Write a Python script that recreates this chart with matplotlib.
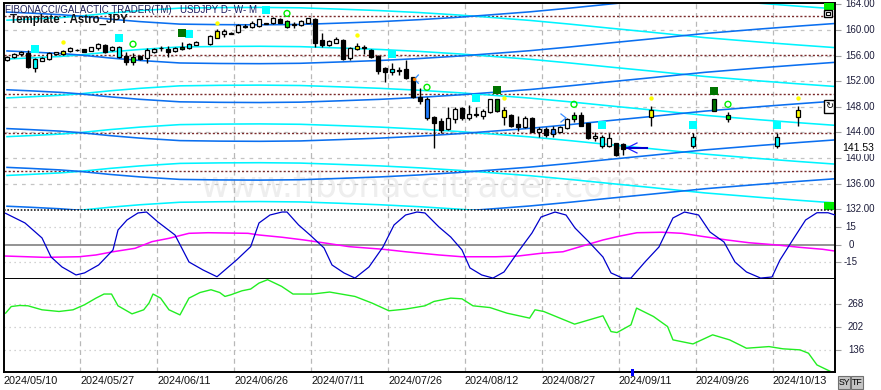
import matplotlib
matplotlib.use('Agg')
import matplotlib.pyplot as plt
from matplotlib.patches import Rectangle
from matplotlib.lines import Line2D
import matplotlib.transforms as mtrans

plt.rcParams['font.family'] = ['Liberation Sans', 'DejaVu Sans']

# ---------------- data ----------------
date_labels = ['2024/05/10', '2024/05/27', '2024/06/11', '2024/06/26', '2024/07/11', '2024/07/26',
               '2024/08/12', '2024/08/27', '2024/09/11', '2024/09/26', '2024/10/13']
date_label_bars = [-0.57, 10.43, 21.43, 32.43, 43.43, 54.43, 65.43, 76.43, 87.43, 98.43, 109.43]

candle_bars = list(range(0, 28)) + list(range(29, 89)) + [92, 98, 101, 103, 110, 113]
opens = [155.33, 155.75, 156.25, 156.47, 154.03, 155.2, 155.44, 156.2, 156.27, 156.73,
         156.85, 157.05, 156.8, 157.16, 157.67, 156.9, 157.4, 155.95, 154.97, 156.0,
         155.6, 156.53, 157.2, 157.05, 156.73, 157.0, 157.16, 157.67,
         157.78, 158.8, 159.34, 159.45, 159.65, 160.55, 160.53, 160.64, 161.0, 161.16,
         161.73, 161.42, 160.85, 160.8, 161.16, 161.73, 158.45, 157.67, 158.03, 158.45,
         155.6, 157.0, 157.35, 156.9, 155.95, 154.03, 153.5, 153.68, 153.87, 152.6,
         149.6, 149.23, 146.4, 145.84, 144.5, 146.06, 147.8, 146.2, 146.78, 146.6,
         147.16, 147.3, 147.5, 146.73, 145.33, 144.8, 146.3, 144.03, 144.5, 143.72,
         144.13, 144.66, 146.06, 146.73, 145.44, 143.1, 143.25, 141.94, 142.3, 142.2,
         147.5, 143.35, 147.4, 146.06, 143.25, 147.5]
highs = [155.95, 156.35, 156.72, 156.9, 155.6, 155.85, 156.55, 156.6, 156.85, 157.4,
         157.05, 157.1, 157.35, 157.94, 157.8, 157.5, 157.55, 156.63, 156.37, 156.1,
         157.16, 157.2, 157.56, 157.5, 157.3, 158.2, 158.0, 158.3,
         159.23, 160.12, 160.12, 159.66, 160.9, 160.9, 161.47, 161.8, 161.1, 162.0,
         161.85, 161.55, 161.3, 161.6, 161.95, 161.84, 159.5, 158.45, 158.87, 158.6,
         157.3, 157.94, 157.67, 157.0, 156.1, 154.28, 154.8, 154.28, 155.33, 152.7,
         150.9, 149.6, 146.6, 146.2, 147.94, 148.0, 148.0, 148.3, 147.94, 147.6,
         149.3, 149.3, 148.03, 146.9, 146.58, 146.5, 146.45, 144.9, 144.9, 145.0,
         145.05, 146.2, 147.16, 147.16, 145.55, 144.12, 143.6, 143.9, 142.4, 142.3,
         148.1, 143.88, 149.3, 147.16, 143.88, 148.1]
lows = [155.2, 155.6, 156.0, 154.03, 153.5, 155.1, 155.3, 156.1, 156.15, 156.53,
        156.75, 156.55, 156.75, 156.9, 156.37, 156.8, 155.7, 154.55, 154.55, 155.4,
        154.9, 156.45, 156.78, 155.75, 156.6, 156.9, 157.0, 157.6,
        157.67, 158.72, 158.97, 159.34, 159.55, 160.3, 160.28, 160.55, 160.95, 160.9,
        161.1, 160.4, 160.28, 160.7, 161.1, 157.4, 157.4, 157.55, 157.94, 155.4,
        155.4, 156.9, 156.27, 155.6, 153.1, 151.94, 153.0, 153.0, 152.36, 149.4,
        148.45, 146.0, 141.6, 143.97, 144.4, 145.44, 146.0, 145.95, 146.47, 146.06,
        147.0, 147.2, 145.17, 144.9, 144.28, 144.7, 144.0, 143.34, 143.34, 143.34,
        144.0, 144.55, 145.7, 145.0, 143.0, 142.7, 141.53, 141.7, 140.4, 140.5,
        145.0, 141.5, 147.3, 145.7, 141.5, 145.0]
closes = [155.75, 156.2, 156.5, 154.2, 155.44, 155.7, 156.4, 156.5, 156.73, 157.16,
          156.95, 156.63, 157.3, 157.78, 156.63, 157.4, 155.84, 155.06, 155.84, 155.5,
          156.9, 157.05, 157.24, 156.53, 157.16, 157.4, 157.8, 158.1,
          159.08, 159.86, 159.86, 159.5, 160.8, 160.6, 161.06, 161.69, 161.05, 161.84,
          161.16, 160.53, 160.95, 161.47, 161.84, 158.03, 157.67, 158.3, 158.56, 155.5,
          157.16, 157.5, 157.2, 155.75, 153.66, 153.5, 153.92, 153.72, 152.56, 149.6,
          148.97, 146.2, 145.5, 144.4, 146.2, 147.67, 146.2, 146.84, 146.85, 147.36,
          149.2, 149.2, 146.47, 145.0, 144.8, 146.3, 144.1, 144.55, 143.6, 144.5,
          144.9, 146.1, 146.73, 145.06, 143.1, 143.45, 141.94, 143.1, 140.5, 141.4,
          146.47, 141.94, 149.23, 146.73, 141.94, 146.47]
body_codes = (list("wwwkcwwwyw") + list("wkwwkwckgk") + list("wwwkwGcw") +   # bars 0-27
              list("wywwwwwwcw") +   # 29-38
              list("kgwwwkkwwk") +   # 39-48
              list("wykkkkckkk") +   # 49-58
              list("kbkkwwkwcw") +   # 59-68
              list("wGykkwkwkb") +   # 69-78
              list("wwgkkwcwkk") +   # 79-88
              list("ycGgcy"))        # forecast bars

cyan_sq_bars = [4, 16, 26, 37, 55, 67, 85, 98, 110]
cyan_sq_vals = [157.0, 158.8, 159.34, 163.1, 156.2, 149.34, 145.17, 145.17, 145.17]
yellow_dot_bars = [8, 30, 50, 71, 92, 113]
yellow_dot_vals = [158.2, 161.16, 159.28, 149.44, 149.44, 149.44]
dkgreen_sq_bars = [25, 70, 101]
dkgreen_sq_vals = [159.6, 150.6, 150.53]
circle_bars = [18, 40, 60, 81, 103]
circle_vals = [157.8, 162.6, 151.06, 148.4, 148.4]

fib_levels = [131.85, 137.92, 143.98, 150.04, 156.11, 162.18, 168.24]
brown_levels = [137.92, 143.98, 150.04, 156.11, 162.18]
band_bars = [0, 3.3, 7.6, 10.4, 14.7, 19, 24.7, 30.4, 36.1, 41.9, 47.6, 53.3, 59, 64.7,
             70.4, 74.7, 80.4, 86.1, 91.9, 99.7, 107.6, 113.3, 118.3]
band_offset = [0.63, 0.47, 0.23, 0.0, -0.47, -0.86, -1.25, -1.33, -1.36, -1.3, -1.09, -0.86,
               -0.55, -0.16, 0.31, 0.67, 1.25, 1.88, 2.5, 3.36, 4.06, 4.53, 4.92]

price_ticks = [164, 160, 156, 152, 148, 144, 140, 136, 132]
last_price = 141.53

osc_bars = [-0.2, 2.57, 5.0, 6.29, 7.86, 9.86, 11.07, 13.09, 15.14, 15.86, 17.14, 18.71, 19.93,
            21.57, 24.0, 26.0, 28.0, 30.0, 32.8, 34.81, 36.0, 37.57, 39.29, 40.0, 41.66, 43.29,
            45.29, 46.43, 48.14, 49.71, 51.71, 53.71, 55.29, 56.94, 58.57, 59.71, 61.71, 63.39,
            65.0, 66.14, 67.81, 69.43, 71.0, 73.0, 75.0, 76.29, 78.29, 79.86, 81.14, 83.14,
            85.14, 86.29, 87.93, 89.14, 91.14, 93.14, 95.14, 96.79, 98.8, 100.43, 102.43, 104.0,
            105.64, 107.66, 109.29, 110.43, 112.43, 114.09, 115.71, 117.29, 118.29]
osc_vals = [26.2, 18.1, 5.5, -10.5, -18.9, -25.6, -23.9, -17.2, -4.6, 12.2, 20.6, 26.5, 27.3,
            18.9, 8.0, -14.7, -21.4, -27.1, -13.0, -1.8, 18.1, 24.8, 27.3, 27.3, 16.4, 8.0,
            -2.9, -17.2, -23.9, -28.2, -18.9, -2.1, 16.4, 24.8, 27.3, 26.5, 14.7, 6.3,
            -4.6, -19.7, -25.6, -28.2, -23.1, -6.3, 9.7, 23.1, 27.3, 24.8, 13.9, 2.1,
            -10.5, -23.9, -28.2, -28.2, -14.7, -2.1, 22.3, 27.3, 24.8, 10.5, 2.1, -14.7,
            -23.1, -28.2, -27.3, -13.0, 5.5, 20.6, 26.7, 26.7, 24.8]
mag_bars = [-0.2, 5.43, 10.29, 12.71, 15.14, 18.29, 20.71, 23.14, 26.0, 28.71, 34.43, 36.0,
            39.29, 42.43, 45.71, 48.86, 53.71, 56.94, 61.71, 65.0, 69.86, 73.0, 76.29, 79.43,
            82.71, 85.14, 87.57, 90.0, 93.57, 96.43, 99.57, 102.86, 106.0, 110.0, 113.29,
            116.5, 118.29]
mag_vals = [-9.7, -10.8, -10.3, -8.8, -6.1, -3.2, 2.4, 5.2, 9.4, 9.9, 9.4, 8.0,
            6.1, 3.8, 1.0, -1.8, -4.0, -6.1, -8.8, -10.3, -10.3, -9.7, -7.4, -6.1,
            -0.4, 3.8, 7.1, 9.9, 10.3, 9.4, 6.6, 3.8, 1.5, -0.4, -2.4,
            -4.0, -5.5]
osc_ticks = [15, 0, -15]

grn_bars = [-0.2, 0.61, 1.81, 3.0, 5.0, 7.43, 9.43, 11.07, 12.71, 13.86, 14.93, 15.86, 17.86,
            19.53, 20.29, 20.86, 21.94, 23.14, 24.71, 26.0, 27.57, 29.14, 30.39, 31.14, 32.0,
            33.57, 34.81, 36.0, 37.23, 39.24, 40.86, 43.67, 46.09, 49.71, 52.14, 54.57, 56.94,
            59.71, 61.0, 63.39, 65.0, 66.57, 69.0, 71.43, 74.66, 75.43, 76.67, 81.09, 85.14,
            86.29, 87.14, 89.14, 89.94, 92.36, 94.37, 95.14, 98.0, 100.81, 103.23, 105.64,
            108.86, 110.86, 113.29, 114.5, 115.71, 117.71]
grn_vals = [242, 261, 264, 263, 251.6, 246.8, 251.6, 266, 285, 296.7, 296.7, 263, 240,
            251.6, 271, 296.7, 285, 251.6, 237, 285, 301, 309, 301, 289.8, 294.7,
            306, 311, 328, 337.7, 318.5, 296.7, 296.7, 302.4, 289.8, 270.9, 248.8, 253.6,
            263, 275.5, 285, 283, 263, 258, 242, 227.8, 251.6, 246.8, 210.6, 234.4,
            189.4, 186.5, 208.6, 256.5, 232.4, 203.7, 165.6, 154, 180, 165.6, 141.7,
            146.4, 140, 137, 127.4, 93.9, 74.6]
grn_ticks = [268, 202, 136]

# ---------------- layout ----------------
W, H = 881, 390
fig = plt.figure(figsize=(W / 100, H / 100), dpi=100)


def rect(x0, y0, x1, y1):
    return [x0 / W, 1 - y1 / H, (x1 - x0) / W, (y1 - y0) / H]


def fx(px):
    return px / W


def fy(py):
    return 1 - py / H


ax1 = fig.add_axes(rect(4, 3, 835, 210))
ax2 = fig.add_axes(rect(4, 210, 835, 279))
ax3 = fig.add_axes(rect(4, 279, 835, 372))
XL = (-0.43, 118.29)
grid_bars = [10.43 + 11 * k for k in range(10)]
label_col = '#1c1c3a'

for ax in (ax1, ax2, ax3):
    ax.set_xlim(*XL)
    ax.set_xticks([])
    for b in grid_bars:
        ax.axvline(b, color='#b8b8b8', lw=0.9, ls=(0, (4, 3)), zorder=0.6)
    for s in ax.spines.values():
        s.set_color('black')
        s.set_linewidth(1.4)
    ax.tick_params(axis='y', left=False, right=True, labelleft=False, labelright=False,
                   length=4, width=0.8, color='#a0a0a0')

# ---- top price panel ----
ax1.set_ylim(131.89, 164.23)
ax1.spines['bottom'].set_visible(False)
ax1.set_yticks(price_ticks)
for p in price_ticks[1:-1]:
    ax1.axhline(p, color='#c4c4c4', lw=0.9, ls=(0, (3, 4)), zorder=0.6)
for lv in brown_levels:
    ax1.axhline(lv, color='#7a2b2b', lw=1.0, ls=(0, (1.5, 1.5)), zorder=1)

ax1.text(0.5, 0.115, 'www.fibonaccitrader.com', transform=ax1.transAxes, ha='center',
         va='center', fontsize=25, family='DejaVu Sans', color='#eeeeee', zorder=0.5)

for lv in fib_levels:
    cy = [lv - d for d in band_offset]
    bl = [lv + d for d in band_offset]
    ax1.plot(band_bars, cy, color='#00f4ff', lw=1.15, zorder=1.5)
    ax1.plot(band_bars, bl, color='#0a6ff0', lw=1.15, zorder=1.6)

color_map = {'w': '#ffffff', 'k': '#000000', 'c': '#00ffff', 'y': '#ffff00',
             'g': '#00e600', 'G': '#007400', 'b': '#1e7cff'}
for b, o, h, l, c, code in zip(candle_bars, opens, highs, lows, closes, body_codes):
    ax1.vlines(b, l, h, color='black', lw=1.0, zorder=3)
    lo, hi = min(o, c), max(o, c)
    if hi - lo < 0.08:
        lo, hi = (lo + hi) / 2 - 0.04, (lo + hi) / 2 + 0.04
    ax1.add_patch(Rectangle((b - 0.34, lo), 0.68, hi - lo, facecolor=color_map[code],
                            edgecolor='black', lw=0.9, zorder=3.5))

ax1.scatter(cyan_sq_bars, cyan_sq_vals, marker='s', s=30, color='#00ffff', zorder=4, linewidths=0)
ax1.scatter(dkgreen_sq_bars, dkgreen_sq_vals, marker='s', s=30, color='#007400', zorder=4, linewidths=0)
ax1.scatter(yellow_dot_bars, yellow_dot_vals, marker='o', s=10, color='#ffff00', zorder=4, linewidths=0)
ax1.scatter(circle_bars, circle_vals, marker='o', s=18, facecolors='none', edgecolors='#00ee00',
            linewidths=1.0, zorder=4)

# small arrows
ax1.plot([58.76, 58.19, 58.76], [152.98, 152.31, 151.69], color='#2a8cff', lw=0.9, zorder=4)
ax1.scatter([58.19], [152.31], s=6, color='#ff8000', zorder=4.5, linewidths=0)
ax1.plot([79.14, 79.86, 79.14], [146.89, 146.27, 145.64], color='#3a8cff', lw=0.9, zorder=4)
ax1.plot([90.0, 88.57, 90.0], [142.36, 141.58, 140.8], color='#2020ff', lw=0.9, zorder=4)
ax1.plot([88.57, 91.43], [last_price, last_price], color='#0000d0', lw=1.5, zorder=4)

blend1 = mtrans.blended_transform_factory(fig.transFigure, ax1.transData)
for p in price_ticks:
    ax1.text(fx(845), p, f'{p:.2f}', transform=blend1, ha='left', va='center',
             fontsize=7, color=label_col)
ax1.text(fx(842), last_price, f'{last_price:.2f}', transform=blend1, ha='left',
         va='center', fontsize=7.5, color='black', zorder=5,
         bbox=dict(facecolor='white', edgecolor='none', pad=0.3))

# ---- oscillator ----
ax2.set_ylim(-29, 29)
ax2.spines['top'].set_visible(False)
ax2.set_yticks(osc_ticks)
for v in (15, -15):
    ax2.axhline(v, color='#c4c4c4', lw=0.9, ls=(0, (1, 3)), zorder=0.6)
ax2.axhline(0, color='#8a8a8a', lw=1.3, zorder=1)
ax2.plot(mag_bars, mag_vals, color='#ff00ff', lw=1.1, zorder=2)
ax2.plot(osc_bars, osc_vals, color='#0000cc', lw=0.9, zorder=3)
blend2 = mtrans.blended_transform_factory(fig.transFigure, ax2.transData)
for v in osc_ticks:
    ax2.text(fx(851), v, f'{v}', transform=blend2, ha='center', va='center',
             fontsize=7, color=label_col)

# dotted boundary between top and oscillator panel
fig.add_artist(Line2D([fx(4), fx(835)], [fy(210), fy(210)], color='#202020', lw=1.2,
                      ls=(0, (1, 1)), transform=fig.transFigure))

# ---- green panel ----
ax3.set_ylim(73.7, 339.7)
ax3.spines['top'].set_visible(False)
ax3.set_yticks(grn_ticks)
for v in grn_ticks:
    ax3.axhline(v, color='#c4c4c4', lw=0.9, ls=(0, (1, 3)), zorder=0.6)
ax3.plot(grn_bars, grn_vals, color='#22ee22', lw=1.0, zorder=2, clip_on=False)
blend3 = mtrans.blended_transform_factory(fig.transFigure, ax3.transData)
for v in grn_ticks:
    ax3.text(fx(856), v, f'{v}', transform=blend3, ha='center', va='center',
             fontsize=7, color=label_col)

# date labels
blendx = mtrans.blended_transform_factory(ax3.transData, fig.transFigure)
for b, lab in zip(date_label_bars, date_labels):
    ax3.text(b, fy(381), lab, transform=blendx, ha='left', va='center', fontsize=7.8,
             color='#111111', clip_on=False)

# ---- header texts ----
fig.text(fx(5), fy(5), 'FIBONACCI/GALACTIC TRADER(TM)', ha='left', va='top', fontsize=7,
         color='#23235a')
fig.text(fx(180), fy(5), 'USDJPY D- W- M', ha='left', va='top', fontsize=7, color='#1c1c60')
fig.text(fx(10), fy(14), 'Template : Astro_JPY', ha='left', va='top', fontsize=8.3,
         fontweight='bold', color='#111111')

# ---- decorations on the right ----
def fig_rect(x0, y0, x1, y1, **kw):
    fig.add_artist(Rectangle((fx(x0), fy(y1)), (x1 - x0) / W, (y1 - y0) / H,
                             transform=fig.transFigure, **kw))

fig_rect(824, 3, 834, 10, facecolor='#00ee00', edgecolor='none')
fig_rect(824, 202, 834, 210, facecolor='#00ee00', edgecolor='none')
fig_rect(824, 10, 832, 17, facecolor='white', edgecolor='black', lw=1.0)
fig_rect(826, 12, 830, 15, facecolor='white', edgecolor='black', lw=0.8)
fig_rect(824, 100, 834, 113, facecolor='white', edgecolor='black', lw=1.0)
fig.text(fx(829), fy(106.5), '\u21bb', ha='center', va='center', fontsize=7,
         family='DejaVu Sans', color='black')
fig_rect(631, 369, 634, 376, facecolor='#0000ff', edgecolor='none')
fig_rect(838, 376, 850, 389, facecolor='#c4c4c4', edgecolor='#707070', lw=0.8)
fig_rect(851, 376, 863, 389, facecolor='#c4c4c4', edgecolor='#707070', lw=0.8)
fig.text(fx(844), fy(382.5), 'SY', ha='center', va='center', fontsize=6.3, color='black')
fig.text(fx(857), fy(382.5), 'TF', ha='center', va='center', fontsize=6.3, color='black')

fig.savefig('out.png', dpi=100)
